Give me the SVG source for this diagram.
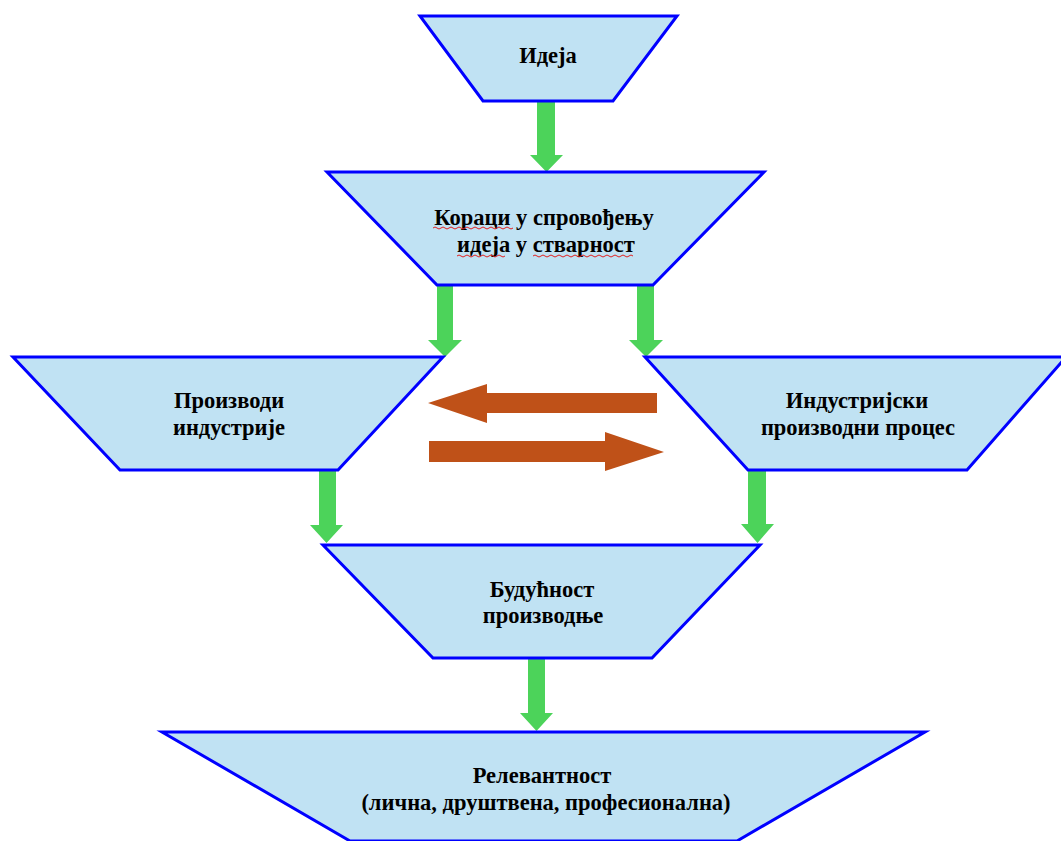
<svg xmlns="http://www.w3.org/2000/svg" width="1061" height="841" viewBox="0 0 1061 841">
<style>
.node polygon{fill:#C0E2F3;stroke:#0000FF;stroke-width:3;stroke-linejoin:miter}
.node text{font-family:'Liberation Serif','DejaVu Serif',serif;font-weight:700;font-size:22.5px;fill:#000;text-anchor:middle}
.g{fill:#4CD35A}
.o{fill:#BF5118}
.wavy{fill:none;stroke:#E02020;stroke-width:1}
</style>
<rect width="1061" height="841" fill="#fff"/>
<g id="connectors">
<polygon class="g" points="537,101 555,101 555,155 563,155 546.5,172 530,155 537,155"/>
<polygon class="g" points="437,285 453,285 453,340 462,340 445,357 428,340 437,340"/>
<polygon class="g" points="637,285 654,285 654,340 663,340 646,357 629,340 637,340"/>
<polygon class="g" points="319,470 336,470 336,525 343,525 326.5,543 310,525 319,525"/>
<polygon class="g" points="748,470 766,470 766,524 774,524 757.5,543 741,524 748,524"/>
<polygon class="g" points="528,658 545,658 545,713 553,713 536.5,731 520,713 528,713"/>
<polygon class="o" points="657,393 487,393 487,384 428,403 487,423 487,413 657,413"/>
<polygon class="o" points="429,441 605,441 605,432 664,452 605,471 605,462 429,462"/>
</g>
<g id="n1" class="node">
<polygon points="420,16 677,16 613,101 483,101"/>
<text x="548" y="63">Идеја</text>
</g>
<g id="n2" class="node">
<polygon points="327,172 764,172 653,285 437,285"/>
<text x="544" y="225">Кораци у спровођењу</text>
<text x="546" y="252">идеја у стварност</text>
<path class="wavy" d="M433,228 q2,-2 4,0 t4,0 t4,0 t4,0 t4,0 t4,0 t4,0 t4,0 t4,0 t4,0 t4,0 t4,0 t4,0 t4,0 t4,0 t4,0 t4,0 t4,0 t4,0 t4,0"/>
<path class="wavy" d="M457,256 q2,-2 4,0 t4,0 t4,0 t4,0 t4,0 t4,0 t4,0 t4,0 t4,0 t4,0 t4,0 t4,0"/>
<path class="wavy" d="M533,256 q2,-2 4,0 t4,0 t4,0 t4,0 t4,0 t4,0 t4,0 t4,0 t4,0 t4,0 t4,0 t4,0 t4,0 t4,0 t4,0 t4,0 t4,0 t4,0 t4,0 t4,0 t4,0 t4,0 t4,0 t4,0 t4,0"/>
</g>
<g id="n3" class="node">
<polygon points="13,357 443,357 338,470 120,470"/>
<text x="229" y="408">Производи</text>
<text x="229" y="435">индустрије</text>
</g>
<g id="n4" class="node">
<polygon points="645,357 1066,357 967,470 748,470"/>
<text x="857" y="408">Индустријски</text>
<text x="858" y="435">производни процес</text>
</g>
<g id="n5" class="node">
<polygon points="323,545 760,545 652,658 433,658"/>
<text x="542" y="597">Будућност</text>
<text x="543" y="623">производње</text>
</g>
<g id="n6" class="node">
<polygon points="162,732 925,732 737,841 350,841"/>
<text x="542" y="783">Релевантност</text>
<text x="546" y="810">(лична, друштвена, професионална)</text>
</g>
</svg>
